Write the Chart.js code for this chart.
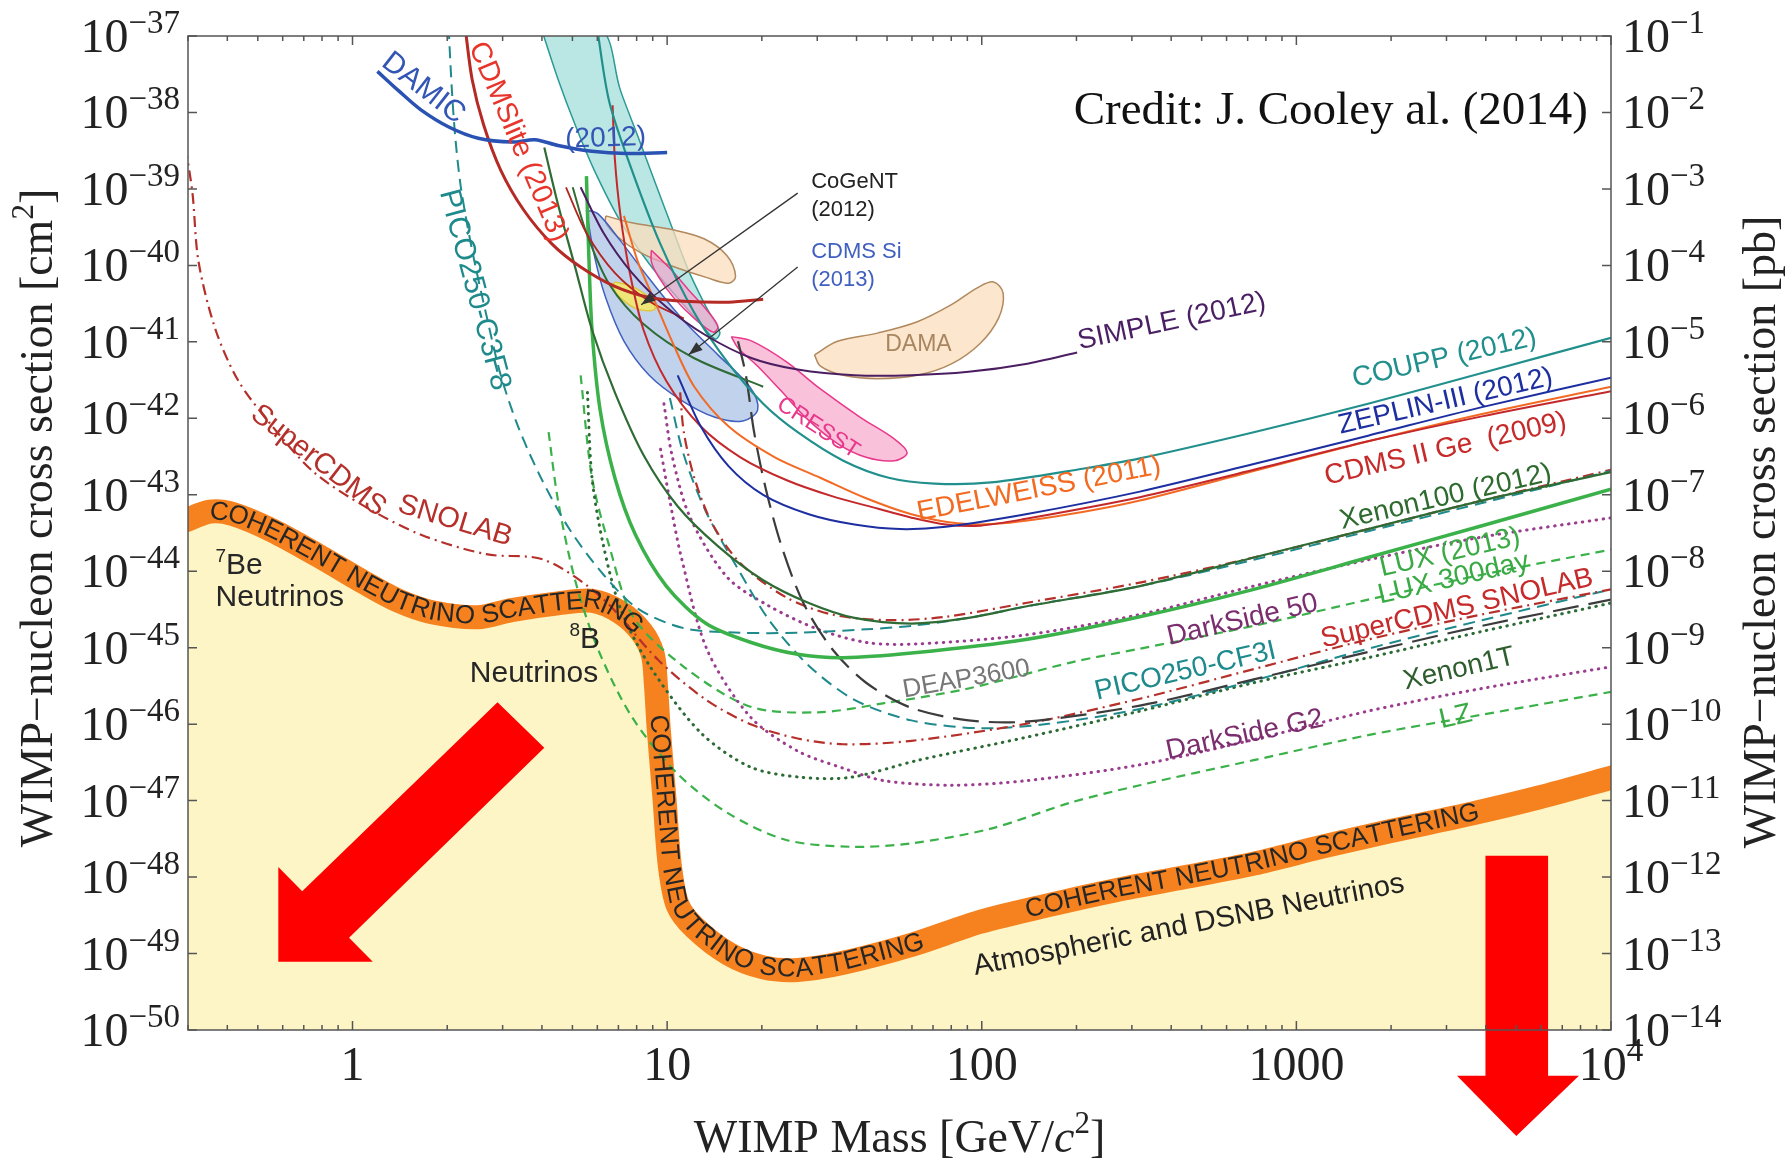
<!DOCTYPE html>
<html lang="en">
<head>
    <meta charset="UTF-8">
    <title>WIMP-nucleon cross section limits</title>
    <style>
        body { margin: 0; background: #fff; }
        #wrap { width: 1785px; height: 1164px; }
    </style>
    <script src="https://cdn.jsdelivr.net/npm/chart.js"></script>
</head>
<body>
<div id="wrap"><canvas id="myChart" width="1785" height="1164"></canvas></div>
<script>
    // axes
    const massTicks = [1, 10, 100, 1000, 10000];
    const massTickLabels = [['1', ''], ['10', ''], ['100', ''], ['1000', ''], ['10', '4']];
    const cmExponents = [-37, -38, -39, -40, -41, -42, -43, -44, -45, -46, -47, -48, -49, -50];
    const pbExponents = [-1, -2, -3, -4, -5, -6, -7, -8, -9, -10, -11, -12, -13, -14];

    // [mass GeV, cross section cm^2]
    const neutrinoFloor = [[0.29,4.5e-44],[0.352,6.0e-44],[0.416,5.6e-44],[0.557,3.4e-44],[0.778,1.6e-44],[1.09,7.1e-45],[1.40,4.1e-45],[1.79,2.9e-45],[2.5,2.5e-45],[3.2,3.1e-45],[4.5,3.8e-45],[5.8,4.1e-45],[7.1,2.9e-45],[8.3,1.6e-45],[9.0,8.2e-46],[9.2,3.5e-46],[9.4,8.8e-47],[9.8,1.1e-47],[10.2,1.4e-48],[10.8,4.3e-49],[12.2,2.2e-49],[15.7,9.9e-50],[20.2,6.6e-50],[26,6.1e-50],[36,7.5e-50],[60,1.3e-49],[99,2.6e-49],[163,4.3e-49],[269,6.8e-49],[444,1.0e-48],[732,1.5e-48],[1210,2.5e-48],[1995,4.0e-48],[3580,6.7e-48],[5910,1.1e-47],[10500,2.1e-47]];

    const damic = [[1.2,3.45e-38],[1.4,1.93e-38],[1.65,1.08e-38],[2.03,6.4e-39],[2.51,4.6e-39],[3.22,4.1e-39],[3.8,4.4e-39],[4.5,3.7e-39],[5.77,3.1e-39],[7.41,2.9e-39],[10,3.0e-39]];
    const cdmsLite = [[2.28,1.3e-37],[2.40,2.7e-38],[2.61,6.9e-39],[2.96,1.75e-39],[3.5,5.3e-40],[4.31,1.9e-40],[5.31,9.5e-41],[6.82,5.3e-41],[8.77,3.8e-41],[11.3,3.4e-41],[15.7,3.3e-41],[20.2,3.6e-41]];
    const picoC3F8 = [[2.02,1.3e-37],[2.07,1.93e-38],[2.12,4.9e-39],[2.21,1.05e-39],[2.40,1.58e-40],[2.68,2.0e-41],[2.96,3.65e-42],[3.36,7.8e-43],[3.97,1.67e-43],[4.89,3.56e-44],[6.28,9.0e-45],[8.07,3.24e-45],[11.3,1.8e-45],[17.1,1.57e-45],[26,1.57e-45],[42.9,1.74e-45],[59.8,1.93e-45],[90.8,2.45e-45],[138,3.46e-45],[318,6.4e-45],[732,1.41e-44],[1690,3.33e-44],[3890,7.8e-44],[10000,2.05e-43]];
    const superCdmsGe = [[0.295,3.47e-39],[0.31,8.8e-40],[0.324,1.12e-40],[0.367,1.44e-41],[0.434,3.08e-42],[0.557,7.8e-43],[0.753,1.98e-43],[1.09,7.1e-44],[1.65,3.0e-44],[2.66,1.67e-44],[4.07,1.41e-44],[6.18,4.55e-45],[9.37,6.9e-46],[13.3,2.08e-46],[18.6,9.8e-47],[26,6.5e-47],[36.3,5.46e-47],[59.8,6.05e-47],[138,1.01e-46],[318,2.15e-46],[732,5.25e-46],[1690,1.28e-45],[3890,2.72e-45],[10000,5.8e-45]];
    const superCdmsSi = [[11.0,2.18e-42],[11.3,6.58e-43],[12.2,1.67e-43],[13.9,4.23e-44],[17.1,1.27e-44],[23.9,4.55e-45],[33.4,2.72e-45],[50.6,2.29e-45],[76.9,2.54e-45],[138,3.84e-45],[318,7.1e-45],[732,1.51e-44],[1690,3.56e-44],[3890,8.4e-44],[10000,2.12e-43]];
    const xenon100 = [[4.07,3.47e-39],[4.5,6.25e-40],[5.1,9.5e-41],[5.77,1.44e-41],[6.82,2.18e-42],[8.41,3.31e-43],[10.8,7.08e-44],[14.5,2.13e-44],[20.2,7.62e-45],[28.2,3.84e-45],[39.4,2.45e-45],[59.8,2.07e-45],[90.8,2.45e-45],[138,3.46e-45],[318,6.4e-45],[732,1.51e-44],[1690,3.56e-44],[3890,8.4e-44],[10000,1.98e-43]];
    const xenon10 = [[5.01,1.05e-39],[5.54,2.65e-40],[6.55,5.67e-41],[8.41,1.71e-41],[12.2,6.1e-42],[20.2,2.59e-42]];
    const lux2013 = [[5.54,1.47e-39],[5.63,1.58e-40],[5.77,1.44e-41],[6.12,1.30e-42],[6.82,1.67e-43],[7.93,3.0e-44],[9.94,6.4e-45],[13.3,2.07e-45],[18.6,1.16e-45],[26,8.2e-46],[36.3,7.4e-46],[59.8,8.5e-46],[138,1.28e-45],[318,2.54e-45],[732,5.8e-45],[1690,1.51e-44],[3890,3.94e-44],[10000,1.18e-43]];
    const coupp = [[6.0,1.2e-37],[6.55,1.37e-38],[7.73,1.75e-39],[9.53,1.88e-40],[12.2,2.4e-41],[15.7,5.14e-42],[20.2,1.55e-42],[26,6.58e-43],[36.3,2.79e-43],[50.6,1.67e-43],[70.7,1.40e-43],[107,1.45e-43],[209,2.19e-43],[318,2.99e-43],[732,6.58e-43],[1690,1.55e-42],[3890,3.91e-42],[10000,1.13e-41]];
    const zeplin = [[10.8,3.65e-42],[12.8,7.8e-43],[15.7,2.35e-43],[20.2,9.97e-44],[28.2,5.56e-44],[39.4,4.08e-44],[55,3.56e-44],[76.9,3.82e-44],[138,5.56e-44],[318,1.10e-43],[732,2.52e-43],[1690,5.93e-43],[3890,1.40e-42],[10000,3.4e-42]];
    const cdmsGe = [[6.71,1.24e-38],[6.82,2.47e-39],[7.11,4.44e-40],[7.61,7.98e-41],[8.41,1.44e-41],[9.94,3.08e-42],[12.8,7.8e-43],[17.1,3.09e-43],[23.9,1.56e-43],[33.4,9.6e-44],[46.6,6.6e-44],[59.8,5.02e-44],[76.9,4.08e-44],[98.8,3.94e-44],[138,4.85e-44],[318,9.3e-44],[732,2.12e-43],[1690,5.0e-43],[3890,1.06e-42],[10000,2.26e-42]];
    const cdmsLowThr = [[4.77,1.05e-39],[5.54,2.65e-40],[6.82,7.98e-41],[8.77,3.39e-41],[11.3,2.03e-41]];
    const edelweiss = [[7.29,4.44e-40],[8.07,1.12e-40],[9.14,3.39e-41],[10.36,1.02e-41],[12.2,2.59e-42],[15.7,7.8e-43],[22,3.09e-43],[30.7,1.67e-43],[42.9,9.0e-44],[59.8,5.56e-44],[83.6,4.23e-44],[117,4.23e-44],[209,5.96e-44],[318,8.4e-44],[732,2.05e-43],[1690,5.0e-43],[3890,1.14e-42],[10000,2.59e-42]];
    const simple = [[5.31,1.05e-39],[6.28,2.65e-40],[7.73,7.98e-41],[9.94,2.86e-41],[13.3,1.21e-41],[18.6,6.1e-42],[26,4.34e-42],[39.4,3.65e-42],[59.8,3.65e-42],[90.8,4.05e-42],[138,5.14e-42],[201,7.24e-42]];
    const deap3600 = [[16.8,1.02e-41],[17.8,3.65e-42],[18.9,6.58e-43],[20.6,1.18e-43],[23.1,2.13e-44],[27.1,3.84e-45],[33.4,9.7e-46],[42.9,3.48e-46],[59.8,1.63e-46],[90.8,1.12e-46],[138,1.08e-46],[318,1.75e-46],[732,3.85e-46],[1690,8.77e-46],[3890,1.93e-45],[10000,4.25e-45]];
    const picoCF3I = [[10.2,1.84e-42],[11.3,3.31e-43],[13.3,5.96e-44],[16.8,1.07e-44],[21.1,2.29e-45],[28.2,5.82e-46],[39.4,2.08e-46],[59.8,1.12e-46],[98.8,8.83e-47],[163,1.01e-46],[318,1.58e-46],[732,3.72e-46],[1690,9.7e-46],[3890,2.29e-45],[10000,5.8e-45]];
    const darkSide50 = [[9.77,1.55e-42],[10.36,3.31e-43],[11.8,5.19e-44],[15.5,8.4e-45],[20.9,3.58e-45],[30.2,1.74e-45],[43.6,1.16e-45],[62.4,1.12e-45],[138,1.47e-45],[318,2.72e-45],[732,6.4e-45],[1690,1.41e-44],[3890,2.8e-44],[10000,5.0e-44]];
    const darkSideG2 = [[9.53,3.93e-43],[10.2,8.4e-44],[11.1,1.51e-44],[13.4,9.4e-46],[18.4,1.24e-46],[26,4.45e-47],[36.3,2.65e-47],[49,1.82e-47],[80.1,1.59e-47],[138,1.82e-47],[318,2.94e-47],[732,6.27e-47],[1690,1.48e-46],[3890,2.93e-46],[10000,5.62e-46]];
    const xenon1T = [[5.58,2.18e-42],[5.77,1.67e-43],[6.28,2.13e-44],[7.11,3.24e-45],[8.84,5.62e-46],[12.8,7.7e-47],[18.4,2.75e-47],[26.6,2.02e-47],[38.4,2.02e-47],[62.9,3.38e-47],[138,6.71e-47],[318,1.48e-46],[732,3.48e-46],[1690,7.4e-46],[3890,1.63e-45],[10000,3.84e-45]];
    const lux300day = [[5.31,3.65e-42],[5.77,1.67e-43],[6.55,2.13e-44],[7.8,2.54e-45],[11.3,5.62e-46],[18.4,1.69e-46],[30.2,1.43e-46],[49,1.88e-46],[90.8,2.93e-46],[193,6.44e-46],[318,9.7e-46],[732,1.93e-45],[1690,4.25e-45],[3890,9.0e-45],[10000,1.92e-44]];
    const lz = [[4.2,6.58e-43],[4.5,8.4e-44],[5.1,7.62e-45],[6.02,9.7e-46],[7.73,1.24e-46],[10.8,2.24e-47],[15.7,6.75e-48],[23.9,3.06e-48],[38.4,2.49e-48],[59.8,2.76e-48],[107,4.31e-48],[193,9.5e-48],[318,1.59e-47],[732,3.38e-47],[1690,7.18e-47],[3890,1.33e-46],[10000,2.64e-46]];

    // signal regions (closed outlines)
    const tealBand = [[3.97,1.3e-37],[4.5,2.72e-38],[5.1,6.9e-39],[5.87,1.75e-39],[7.11,3.74e-40],[8.77,1.05e-40],[10.8,3.76e-41],[12.8,1.71e-41],[14.2,1.09e-41],[14.7,1.34e-41],[13.3,2.86e-41],[11.7,8.55e-41],[10.36,3.15e-40],[9.14,1.24e-39],[8.07,4.9e-39],[7.11,1.93e-38],[6.12,1.3e-37],[3.97,1.3e-37]];
    const cdmsSi = [[5.54,5.27e-40],[5.87,1.34e-40],[6.38,3.76e-41],[7.29,1.02e-41],[8.77,3.65e-42],[11.1,1.72e-42],[14.2,1.03e-42],[17.4,9.25e-43],[19.4,1.30e-42],[18.3,2.59e-42],[14.5,6.76e-42],[11.3,1.89e-41],[8.77,6.73e-41],[7.11,2.09e-40],[6.02,4.75e-40],[5.54,5.27e-40]];
    const damaNa = [[6.38,4.44e-40],[7.73,3.61e-40],[10.36,2.94e-40],[13.1,2.23e-40],[15.5,1.34e-40],[16.5,7.2e-41],[15.7,5.86e-41],[13.3,6.97e-41],[10.36,9.8e-41],[8.2,1.48e-40],[6.94,2.39e-40],[6.38,3.61e-40],[6.38,4.44e-40]];
    const damaI = [[29.4,6.76e-42],[34.8,1.02e-41],[46.6,1.3e-41],[62.4,1.83e-41],[80.1,3.06e-41],[97.1,5.12e-41],[109,6.07e-41],[117,4.31e-41],[113,2.03e-41],[98.8,9.53e-42],[80.1,5.14e-42],[62.4,3.65e-42],[46.6,3.3e-42],[36.3,3.65e-42],[30.7,4.8e-42],[29.4,6.76e-42]];
    const cresstLow = [[8.91,1.58e-40],[10.2,9.16e-41],[11.7,4.78e-41],[13.3,2.67e-41],[14.5,1.6e-41],[14.0,1.34e-41],[12.2,2.03e-41],[10.5,3.76e-41],[9.37,7.2e-41],[8.91,1.12e-40],[8.91,1.58e-40]];
    const cresstHigh = [[16,1.17e-41],[18.6,1.02e-41],[23.9,5.5e-42],[30.7,2.42e-42],[41.1,1.03e-42],[52.8,5.35e-43],[57.9,3.55e-43],[52.8,2.79e-43],[42.9,3.09e-43],[34.8,4.67e-43],[27.8,9.9e-43],[22.9,2.34e-42],[19.4,4.8e-42],[16.8,8.3e-42],[16,1.17e-41]];
    const cogent = [[6.82,6.07e-41],[7.73,5.3e-41],[8.77,3.76e-41],[9.14,2.67e-41],[8.07,2.67e-41],[7.11,3.76e-41],[6.71,5.3e-41],[6.82,6.07e-41]];

    // big red arrows and the two pointers
    const arrowDownLeft = [[2.89,1.94e-46],[4.07,4.93e-47],[0.975,1.61e-49],[1.16,7.8e-50],[0.581,7.8e-50],[0.581,1.35e-48],[0.692,6.55e-49]];
    const arrowDown = [[3990,1.9e-48],[6310,1.9e-48],[6310,2.53e-51],[7910,2.53e-51],[5000,4.11e-52],[3240,2.53e-51],[3990,2.53e-51]];
    const cogentPointer = [[26,8.81e-40],[8.27,3.06e-41]];
    const cdmsSiPointer = [[26,9.5e-41],[11.7,6.76e-42]];

    const curveLabels = [
        { text: 'DAMIC', at: [1.68, 2.07e-38], angle: 38, color: '#3355b5', size: 30 },
        { text: '(2012)', at: [6.38, 4.57e-39], angle: -2, color: '#3355b5', size: 28 },
        { text: 'CDMSlite (2013)', at: [3.36, 4.12e-39], angle: 67, color: '#e8352b', size: 29 },
        { text: 'PICO250-C3F8', at: [2.44, 4.78e-41], angle: 75, color: '#1f8a8c', size: 30 },
        { text: 'SuperCDMS', at: [0.778, 2.79e-43], angle: 38, color: '#b5302a', size: 29 },
        { text: 'SNOLAB', at: [2.12, 4.53e-44], angle: 17, color: '#b5302a', size: 29 },
        { text: 'SIMPLE (2012)', at: [402, 1.83e-41], angle: -12, color: '#4a1f63', size: 28 },
        { text: 'DAMA', at: [62.9, 9.2e-42], angle: 0, color: '#a8865f', size: 23 },
        { text: 'CRESST', at: [30.2, 7.5e-43], angle: 33, color: '#e8388a', size: 23 },
        { text: 'COUPP (2012)', at: [2955, 6.1e-42], angle: -13, color: '#21908d', size: 28 },
        { text: 'ZEPLIN-III (2012)', at: [2980, 1.66e-42], angle: -13, color: '#1c2ea0', size: 28 },
        { text: 'CDMS II Ge  (2009)', at: [2980, 3.93e-43], angle: -13, color: '#c62a2a', size: 28 },
        { text: 'EDELWEISS (2011)', at: [152, 1.18e-43], angle: -11, color: '#f36a21', size: 28 },
        { text: 'Xenon100 (2012)', at: [2980, 9.3e-44], angle: -13, color: '#2e6b2e', size: 28 },
        { text: 'LUX (2013)', at: [3080, 1.75e-44], angle: -13, color: '#3aaa45', size: 28 },
        { text: 'LUX 300day', at: [3160, 8.0e-45], angle: -13, color: '#3aaa45', size: 28 },
        { text: 'SuperCDMS SNOLAB', at: [3240, 3.23e-45], angle: -13, color: '#c62a2a', size: 28 },
        { text: 'DarkSide 50', at: [674, 2.29e-45], angle: -13, color: '#7a2e6e', size: 28 },
        { text: 'PICO250-CF3I', at: [444, 4.9e-46], angle: -13, color: '#1f8a8c', size: 28 },
        { text: 'DEAP3600', at: [89.3, 3.85e-46], angle: -10, color: '#777777', size: 26 },
        { text: 'Xenon1T', at: [3290, 5.25e-46], angle: -13, color: '#2e5e2e', size: 28 },
        { text: 'DarkSide G2', at: [685, 7.18e-47], angle: -12, color: '#7a2e6e', size: 28 },
        { text: 'LZ', at: [3210, 1.24e-46], angle: -13, color: '#3aaa45', size: 28 },
        { text: 'Atmospheric and DSNB Neutrinos', at: [455, 2.34e-49], angle: -11, color: '#222222', size: 29 }
    ];
    const sideLabels = [
        { text: 'CoGeNT', at: [28.7, 1.24e-39], color: '#222222' },
        { text: '(2012)', at: [28.7, 5.26e-40], color: '#222222' },
        { text: 'CDMS Si', at: [28.7, 1.48e-40], color: '#4060c0' },
        { text: '(2013)', at: [28.7, 6.5e-41], color: '#4060c0' }
    ];
    const neutrinoLabels = [
        { sup: '7', text: 'Be', at: [0.367, 1.27e-44] },
        { sup: '', text: 'Neutrinos', at: [0.367, 4.88e-45] },
        { sup: '8', text: 'B', at: [4.89, 1.37e-45] },
        { sup: '', text: 'Neutrinos', at: [2.36, 4.9e-46] }
    ];
    const floorText = 'COHERENT NEUTRINO SCATTERING';
    const floorTextStarts = [[0.352, 6.0e-44], [9.37, 1.33e-46], [138, 3.66e-49]];

    const pts = arr => arr.map(([x, y]) => ({ x, y }));

    function curve(data, color, width, dash, cap) {
        return {
            data: pts(data), showLine: true, fill: false, borderColor: color, borderWidth: width,
            borderDash: dash || [], borderCapStyle: cap || 'butt', pointRadius: 0, tension: 0.3
        };
    }
    function region(data, fillColor, lineColor) {
        return {
            data: pts(data), showLine: true, fill: 'shape', backgroundColor: fillColor,
            borderColor: lineColor, borderWidth: 1.5, pointRadius: 0, tension: 0.35
        };
    }

    const DOT = [0.5, 6.5];
    const datasets = [
        { data: pts(neutrinoFloor), showLine: true, fill: 'start', backgroundColor: '#fdf5c5', borderWidth: 0, pointRadius: 0, tension: 0.3 },
        Object.assign(curve(neutrinoFloor, '#f5821f', 24), { borderJoinStyle: 'round' }),
        region(tealBand, 'rgba(140,215,210,0.6)', '#2a9a95'),
        region(damaNa, 'rgba(251,222,188,0.75)', '#b0895e'),
        region(damaI, 'rgba(251,222,188,0.75)', '#b0895e'),
        region(cresstLow, 'rgba(247,160,200,0.65)', '#e8388a'),
        region(cresstHigh, 'rgba(247,160,200,0.65)', '#e8388a'),
        region(cdmsSi, 'rgba(130,165,218,0.5)', '#4060c0'),
        region(cogent, 'rgba(245,233,110,0.9)', '#e0c840'),
        curve(lz, '#3bb14a', 2.2, [9, 6]),
        curve(lux300day, '#3bb14a', 2.2, [9, 6]),
        curve(xenon1T, '#2d6b35', 3, DOT, 'round'),
        curve(darkSideG2, '#9b3d8e', 3, DOT, 'round'),
        curve(darkSide50, '#9b3d8e', 3, DOT, 'round'),
        curve(picoCF3I, '#1f8a8c', 2, [12, 7]),
        curve(superCdmsGe, '#b5302a', 2.2, [11, 5, 2, 5]),
        curve(superCdmsSi, '#b5302a', 2.2, [11, 5, 2, 5]),
        curve(deap3600, '#3c3c3c', 2.2, [26, 10]),
        curve(picoC3F8, '#1f8a8c', 2, [12, 7]),
        curve(lux2013, '#3bb14a', 3.5),
        curve(xenon100, '#2f6b34', 2.2),
        curve(xenon10, '#2f6b34', 2),
        curve(cdmsLowThr, '#b3241f', 1.8),
        curve(edelweiss, '#f26a24', 2),
        curve(cdmsGe, '#c4282b', 2),
        curve(zeplin, '#1c2ea0', 2),
        curve(coupp, '#21908d', 2.2),
        curve(simple, '#4b1e61', 2),
        curve(cdmsLite, '#b52a25', 3),
        curve(damic, '#2952b3', 3.5)
    ];
    datasets.forEach((d, i) => { d.order = datasets.length - i; });

    const SERIF = '"Liberation Serif"';
    const SANS = '"Liberation Sans"';

    function drawParts(ctx, parts, x, y, align) {
        let total = 0;
        parts.forEach(p => { ctx.font = p.f; p.w = ctx.measureText(p.t).width; total += p.w; });
        let cx = align === 'right' ? x - total : align === 'center' ? x - total / 2 : x;
        ctx.textAlign = 'left';
        ctx.textBaseline = 'alphabetic';
        parts.forEach(p => { ctx.font = p.f; ctx.fillText(p.t, cx, y + (p.dy || 0)); cx += p.w; });
    }
    function power(base, exp) {
        const parts = [{ t: base, f: '48px ' + SERIF }];
        if (exp) parts.push({ t: exp, f: '33px ' + SERIF, dy: -19 });
        return parts;
    }

    function textAlongPath(ctx, path, text, start) {
        const cum = [0];
        for (let i = 1; i < path.length; i++) {
            cum.push(cum[i - 1] + Math.hypot(path[i].x - path[i - 1].x, path[i].y - path[i - 1].y));
        }
        const at = s => {
            let i = 1;
            while (i < path.length - 1 && cum[i] < s) i++;
            const t = (s - cum[i - 1]) / ((cum[i] - cum[i - 1]) || 1);
            return { x: path[i - 1].x + t * (path[i].x - path[i - 1].x), y: path[i - 1].y + t * (path[i].y - path[i - 1].y) };
        };
        let s = 0, best = Infinity;
        for (let i = 1; i < path.length; i++) {
            const a = path[i - 1], b = path[i];
            const L2 = (b.x - a.x) ** 2 + (b.y - a.y) ** 2 || 1;
            let t = ((start.x - a.x) * (b.x - a.x) + (start.y - a.y) * (b.y - a.y)) / L2;
            t = Math.max(0, Math.min(1, t));
            const d = Math.hypot(a.x + t * (b.x - a.x) - start.x, a.y + t * (b.y - a.y) - start.y);
            if (d < best) { best = d; s = cum[i - 1] + t * Math.sqrt(L2); }
        }
        for (const ch of text) {
            const w = ctx.measureText(ch).width;
            const mid = s + w / 2;
            const p = at(mid), p0 = at(mid - 10), p1 = at(mid + 10);
            ctx.save();
            ctx.translate(p.x, p.y);
            ctx.rotate(Math.atan2(p1.y - p0.y, p1.x - p0.x));
            ctx.fillText(ch, 0, 0);
            ctx.restore();
            s += w;
        }
    }

    function polygon(ctx, list) {
        ctx.beginPath();
        list.forEach((p, i) => i ? ctx.lineTo(p.x, p.y) : ctx.moveTo(p.x, p.y));
        ctx.closePath();
        ctx.fill();
    }

    function pointer(ctx, a, b, color) {
        ctx.strokeStyle = color;
        ctx.fillStyle = color;
        ctx.lineWidth = 1.3;
        ctx.beginPath(); ctx.moveTo(a.x, a.y); ctx.lineTo(b.x, b.y); ctx.stroke();
        const ang = Math.atan2(b.y - a.y, b.x - a.x);
        ctx.beginPath();
        ctx.moveTo(b.x, b.y);
        ctx.lineTo(b.x - 14 * Math.cos(ang) + 5 * Math.sin(ang), b.y - 14 * Math.sin(ang) - 5 * Math.cos(ang));
        ctx.lineTo(b.x - 14 * Math.cos(ang) - 5 * Math.sin(ang), b.y - 14 * Math.sin(ang) + 5 * Math.cos(ang));
        ctx.closePath();
        ctx.fill();
    }

    const decor = {
        id: 'decor',
        afterDatasetsDraw(chart) {
            const { ctx, chartArea: a, scales: { x, y } } = chart;
            const px = p => ({ x: x.getPixelForValue(p[0]), y: y.getPixelForValue(p[1]) });

            ctx.save();
            ctx.beginPath();
            ctx.rect(a.left, a.top, a.right - a.left, a.bottom - a.top);
            ctx.clip();

            // text riding on the neutrino floor
            const floorPath = neutrinoFloor.map(px);
            ctx.font = '26px ' + SANS;
            ctx.fillStyle = '#262626';
            ctx.textAlign = 'center';
            ctx.textBaseline = 'middle';
            floorTextStarts.forEach(st => textAlongPath(ctx, floorPath, floorText, px(st)));

            curveLabels.forEach(L => {
                const p = px(L.at);
                ctx.save();
                ctx.translate(p.x, p.y);
                ctx.rotate(L.angle * Math.PI / 180);
                ctx.font = L.size + 'px ' + SANS;
                ctx.fillStyle = L.color;
                ctx.textAlign = 'center';
                ctx.textBaseline = 'middle';
                ctx.fillText(L.text, 0, 0);
                ctx.restore();
            });

            sideLabels.forEach(L => {
                const p = px(L.at);
                ctx.font = '22px ' + SANS;
                ctx.fillStyle = L.color;
                ctx.textAlign = 'left';
                ctx.textBaseline = 'middle';
                ctx.fillText(L.text, p.x, p.y);
            });

            ctx.fillStyle = '#262626';
            neutrinoLabels.forEach(L => {
                const p = px(L.at);
                const parts = [];
                if (L.sup) parts.push({ t: L.sup, f: '19px ' + SANS, dy: -12 });
                parts.push({ t: L.text, f: '30px ' + SANS });
                drawParts(ctx, parts, p.x, p.y + 11, 'left');
            });

            pointer(ctx, px(cogentPointer[0]), px(cogentPointer[1]), '#333333');
            pointer(ctx, px(cdmsSiPointer[0]), px(cdmsSiPointer[1]), '#333333');

            ctx.fillStyle = '#ff0000';
            polygon(ctx, arrowDownLeft.map(px));
            ctx.restore();

            ctx.save();
            ctx.fillStyle = '#ff0000';
            polygon(ctx, arrowDown.map(px));
            ctx.restore();
        },
        afterDraw(chart) {
            const { ctx, chartArea: a, scales: { x, y, y2 } } = chart;
            ctx.save();
            ctx.strokeStyle = '#555555';
            ctx.lineWidth = 1.5;
            ctx.strokeRect(a.left, a.top, a.right - a.left, a.bottom - a.top);

            ctx.beginPath();
            cmExponents.forEach(e => {
                const py = y.getPixelForValue(Math.pow(10, e));
                ctx.moveTo(a.left, py); ctx.lineTo(a.left + 9, py);
            });
            pbExponents.forEach(e => {
                const py = y2.getPixelForValue(Math.pow(10, e));
                ctx.moveTo(a.right, py); ctx.lineTo(a.right - 9, py);
            });
            [0.1, 1, 10, 100, 1000, 10000].forEach(d => {
                for (let k = 1; k <= 9; k++) {
                    const v = d * k;
                    if (v < 0.3 || v > 10000) continue;
                    const pxv = x.getPixelForValue(v);
                    const len = k === 1 ? 9 : 5;
                    ctx.moveTo(pxv, a.bottom); ctx.lineTo(pxv, a.bottom - len);
                    ctx.moveTo(pxv, a.top); ctx.lineTo(pxv, a.top + len);
                }
            });
            ctx.stroke();

            ctx.fillStyle = '#222222';
            cmExponents.forEach(e => {
                const py = y.getPixelForValue(Math.pow(10, e));
                drawParts(ctx, power('10', '\u2212' + (-e)), a.left - 8, py + 16, 'right');
            });
            pbExponents.forEach(e => {
                const py = y2.getPixelForValue(Math.pow(10, e));
                drawParts(ctx, power('10', '\u2212' + (-e)), a.right + 11, py + 16, 'left');
            });
            massTicks.forEach((m, i) => {
                const pxv = x.getPixelForValue(m);
                drawParts(ctx, power(massTickLabels[i][0], massTickLabels[i][1]), pxv, a.bottom + 50, 'center');
            });

            const big = '46px ' + SERIF, sup = '31px ' + SERIF;
            drawParts(ctx, [
                { t: 'WIMP Mass [GeV/', f: big },
                { t: 'c', f: 'italic ' + big },
                { t: '2', f: sup, dy: -19 },
                { t: ']', f: big }
            ], (a.left + a.right) / 2, 1152, 'center');

            ctx.save();
            ctx.translate(36, 518);
            ctx.rotate(-Math.PI / 2);
            drawParts(ctx, [
                { t: 'WIMP\u2212nucleon cross section [cm', f: big },
                { t: '2', f: sup, dy: -19 },
                { t: ']', f: big }
            ], 0, 16, 'center');
            ctx.restore();

            ctx.save();
            ctx.translate(1759, 532);
            ctx.rotate(-Math.PI / 2);
            drawParts(ctx, [{ t: 'WIMP\u2212nucleon cross section [pb]', f: big }], 0, 16, 'center');
            ctx.restore();

            ctx.fillStyle = '#111111';
            drawParts(ctx, [{ t: 'Credit: J. Cooley al. (2014)', f: '47px ' + SERIF }], a.right - 23, 124, 'right');
            ctx.restore();
        }
    };

    new Chart(document.getElementById('myChart'), {
        type: 'scatter',
        data: { datasets },
        options: {
            responsive: false,
            animation: false,
            devicePixelRatio: 1,
            events: [],
            layout: { padding: { left: 188, right: 174, top: 36, bottom: 134 } },
            scales: {
                x: { type: 'logarithmic', min: 0.3, max: 10000, display: false },
                y: { type: 'logarithmic', min: 1e-50, max: 1e-37, display: false },
                y2: { type: 'logarithmic', min: 1e-14, max: 1e-1, display: false, position: 'right' }
            },
            plugins: { legend: { display: false }, tooltip: { enabled: false } }
        },
        plugins: [decor]
    });
</script>
</body>
</html>
